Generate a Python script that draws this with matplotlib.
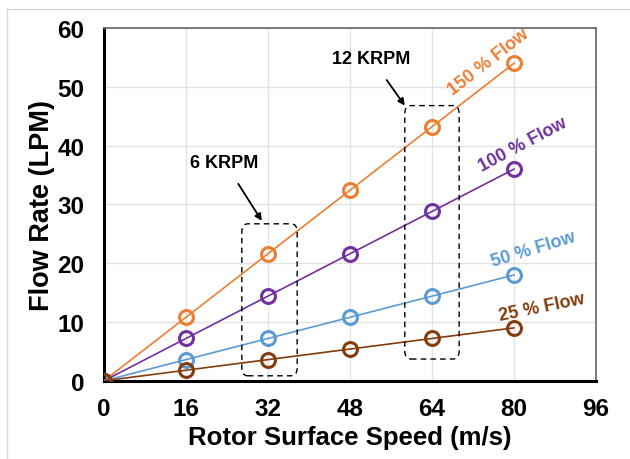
import numpy as np
import matplotlib.pyplot as plt
from matplotlib.patches import FancyBboxPatch
from matplotlib.lines import Line2D

plt.rcParams['font.family'] = ['Liberation Sans', 'DejaVu Sans']
plt.rcParams['font.weight'] = 'bold'

# Flow rate vs rotor surface speed
speed = [0, 16, 32, 48, 64, 80]
flow_150 = [0, 10.8, 21.6, 32.4, 43.2, 54.0]
flow_100 = [0, 7.2, 14.4, 21.6, 28.8, 36.0]
flow_50 = [0, 3.6, 7.2, 10.8, 14.4, 18.0]
flow_25 = [0, 1.8, 3.6, 5.4, 7.2, 9.0]

series = [
    (flow_150, '#ED7D31', '150 % Flow', (75.0, 54.3), 38),
    (flow_100, '#7030A0', '100 % Flow', (81.8, 40.2), 28),
    (flow_50, '#5B9BD5', '50 % Flow', (83.8, 22.5), 17),
    (flow_25, '#843C0C', '25 % Flow', (85.5, 12.5), 11.5),
]

x_ticks = [0, 16, 32, 48, 64, 80, 96]
y_ticks = [0, 10, 20, 30, 40, 50, 60]

fig = plt.figure(figsize=(6.3, 4.6), dpi=100)
ax = fig.add_axes([0.165, 0.170, 0.781, 0.767])

# thin frame around the figure (top and left edges)
fig.add_artist(Line2D([7 / 630, 1], [1 - 10 / 460, 1 - 10 / 460], color='#d9d9d9', lw=1))
fig.add_artist(Line2D([7 / 630, 7 / 630], [0, 1 - 10 / 460], color='#d9d9d9', lw=1))

for vals, color, label, pos, rot in series:
    ax.plot(speed, vals, color=color, lw=1.2, marker='o', markersize=10,
            markerfacecolor='none', markeredgewidth=2.2, zorder=3)
    ax.text(pos[0], pos[1], label, color=color, fontsize=13, fontweight='bold',
            rotation=rot, ha='center', va='center', rotation_mode='anchor')

# dashed boxes marking the two rotor speeds
for x0, y0, x1, y1 in [(26.9, 0.85, 37.7, 26.7), (58.7, 3.7, 69.3, 46.8)]:
    box = FancyBboxPatch((x0, y0), x1 - x0, y1 - y0,
                         boxstyle='round,pad=0,rounding_size=1.2',
                         mutation_aspect=1.15, fill=False, ec='black',
                         lw=1.0, ls=(0, (4, 3)), zorder=4)
    ax.add_patch(box)

ax.annotate('6 KRPM', xy=(30.8, 27.2), xytext=(23.5, 37.2),
            ha='center', va='center', fontsize=13, fontweight='bold',
            arrowprops=dict(arrowstyle='-|>', color='black', lw=1.3,
                            mutation_scale=10, shrinkA=9, shrinkB=0))
ax.annotate('12 KRPM', xy=(58.7, 46.8), xytext=(52.2, 54.8),
            ha='center', va='center', fontsize=13, fontweight='bold',
            arrowprops=dict(arrowstyle='-|>', color='black', lw=1.3,
                            mutation_scale=10, shrinkA=9, shrinkB=0))

ax.set_xlim(0, 96)
ax.set_ylim(0, 60)
ax.set_xticks(x_ticks)
ax.set_yticks(y_ticks)
ax.tick_params(axis='y', length=0, labelsize=17.5, pad=14)
ax.tick_params(axis='x', length=0, labelsize=17.5, pad=12)
for lbl in ax.get_xticklabels() + ax.get_yticklabels():
    lbl.set_fontweight('bold')
ax.grid(True, color='#e3e3e3', lw=1.0)
ax.set_axisbelow(True)

ax.spines['left'].set_linewidth(2.2)
ax.spines['bottom'].set_linewidth(2.2)
ax.spines['left'].set_color('black')
ax.spines['bottom'].set_color('black')
ax.spines['top'].set_color('#707070')
ax.spines['right'].set_color('#707070')
ax.spines['top'].set_linewidth(1.3)
ax.spines['right'].set_linewidth(1.3)

ax.set_xlabel('Rotor Surface Speed (m/s)', fontsize=18.5, fontweight='bold', labelpad=3)
ax.set_ylabel('Flow Rate (LPM)', fontsize=19.5, fontweight='bold', labelpad=2)

fig.savefig('out.png', dpi=100)
